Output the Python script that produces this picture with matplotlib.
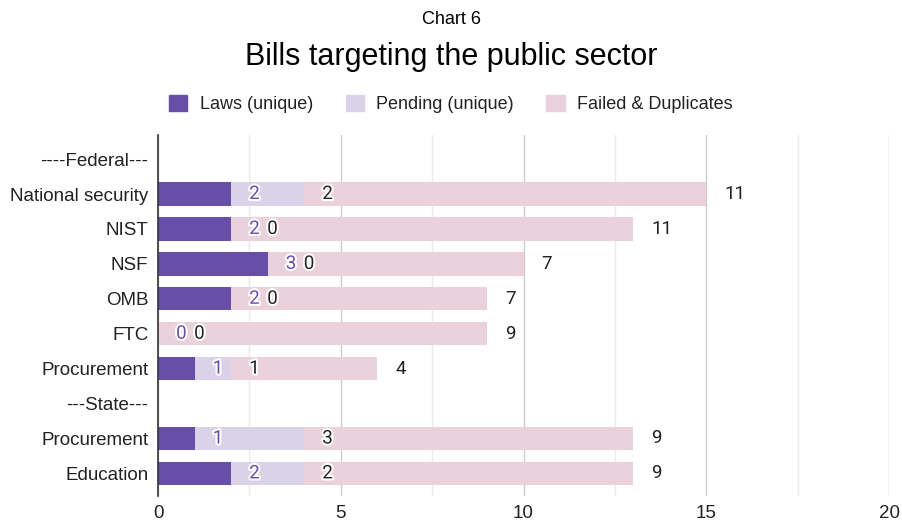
import matplotlib as mpl
import matplotlib.pyplot as plt
import matplotlib.patheffects as pe
import numpy as np
from matplotlib.patches import Patch

mpl.rcParams.update({"font.family": ["Liberation Sans", "DejaVu Sans"], "font.size": 13.5})

LAWS_C, PEND_C, FAIL_C = "#674ea7", "#d9d2e9", "#ead1dc"

categories = ["----Federal---", "National security", "NIST", "NSF", "OMB", "FTC",
              "Procurement", "---State---", "Procurement", "Education"]
laws = [np.nan, 2, 2, 3, 2, 0, 1, np.nan, 1, 2]
pending = [np.nan, 2, 0, 0, 0, 0, 1, np.nan, 3, 2]
failed = [np.nan, 11, 11, 7, 7, 9, 4, np.nan, 9, 9]
series_names = ["Laws (unique)", "Pending (unique)", "Failed & Duplicates"]

fig = plt.figure(figsize=(9.02, 5.27), dpi=100)
ax = fig.add_axes([0.1752, 0.058, 0.8104, 0.6858])

y = np.arange(len(categories))
laws_a, pend_a, fail_a = (np.array(v, dtype=float) for v in (laws, pending, failed))
h = 0.667
ax.barh(y, laws_a, height=h, color=LAWS_C, zorder=3)
ax.barh(y, pend_a, left=laws_a, height=h, color=PEND_C, zorder=3)
ax.barh(y, fail_a, left=laws_a + pend_a, height=h, color=FAIL_C, zorder=3)

# value labels sit just past the end of their own segment
stroke = [pe.withStroke(linewidth=3, foreground="white")]
lab_kw = dict(textcoords="offset points", va="center", ha="left",
              fontsize=13.5, family=["Roboto", "DejaVu Sans"], zorder=5)
for i in y:
    if np.isnan(laws_a[i]):
        continue
    e1 = laws_a[i]
    e2 = e1 + pend_a[i]
    e3 = e2 + fail_a[i]
    ax.annotate(f"{laws_a[i]:.0f}", (e1, i), xytext=(13, 0), color=LAWS_C,
                path_effects=stroke, **lab_kw)
    shift = 26 if pend_a[i] == 0 else 13
    ax.annotate(f"{pend_a[i]:.0f}", (e2, i), xytext=(shift, 0), color="#222222",
                path_effects=stroke, **lab_kw)
    ax.annotate(f"{fail_a[i]:.0f}", (e3, i), xytext=(13, 0), color="#222222", **lab_kw)

ax.set_xlim(0, 20)
ax.set_ylim(len(categories) - 1 + 0.66, -0.69)
ax.set_yticks(y, categories)
ax.set_xticks([0, 5, 10, 15, 20])
ax.set_xticks([2.5, 7.5, 12.5, 17.5], minor=True)
ax.grid(axis="x", which="major", color="#cccccc", lw=1, zorder=0)
ax.grid(axis="x", which="minor", color="#ebebeb", lw=1, zorder=0)
ax.tick_params(axis="both", which="both", length=0, labelcolor="#222222")
ax.tick_params(axis="x", pad=6)
ax.tick_params(axis="y", pad=7)
for s in ["top", "right", "bottom"]:
    ax.spines[s].set_visible(False)
ax.spines["left"].set_color("#333333")
ax.spines["left"].set_linewidth(1.2)
ax.spines["left"].set_zorder(4)

fig.text(0.5, 1 - 19 / 527, "Chart 6", ha="center", va="center", fontsize=13)
fig.text(0.5, 1 - 57 / 527, "Bills targeting the public sector", ha="center",
         va="center", fontsize=22)
handles = [Patch(color=c) for c in (LAWS_C, PEND_C, FAIL_C)]
fig.legend(handles, series_names, loc="center", bbox_to_anchor=(0.5, 1 - 104 / 527),
           ncol=3, frameon=False, fontsize=13, handlelength=1.0, handleheight=1.0,
           columnspacing=1.8, handletextpad=0.7, labelcolor="#222222")

fig.savefig("out.png", dpi=100, facecolor="white")
